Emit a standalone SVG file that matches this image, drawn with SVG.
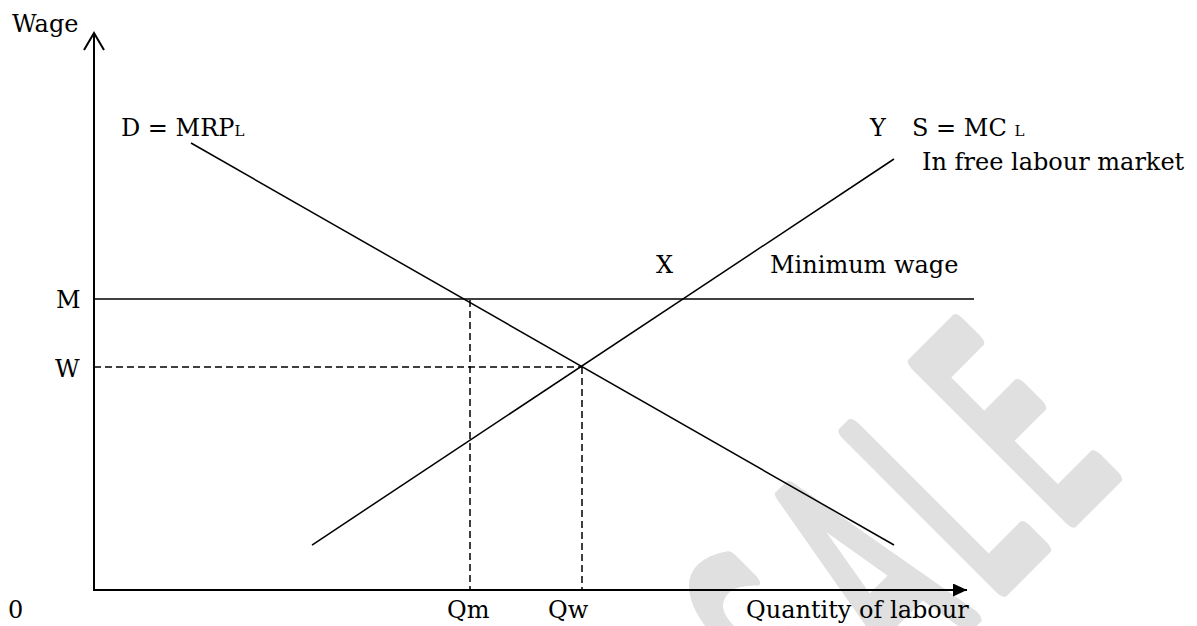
<svg xmlns="http://www.w3.org/2000/svg" width="1197" height="626" viewBox="0 0 1197 626">
<defs>
<style>
.t{font-family:"DejaVu Serif","Liberation Serif",serif;font-size:24px;fill:#000}
.sub{font-size:15px}
.ln{stroke:#000;stroke-width:1.5;fill:none}
.ax{stroke:#000;stroke-width:2;fill:none}
.dash{stroke:#000;stroke-width:1.5;stroke-dasharray:7 4;fill:none}
.wm{font-family:"DejaVu Sans",sans-serif;font-size:300px;letter-spacing:46px;fill:#e0e0e0;stroke:#e0e0e0;stroke-width:18;stroke-linejoin:round;stroke-linecap:round}
</style>
<marker id="ah" viewBox="0 0 14 13" refX="14" refY="6.5" markerWidth="14" markerHeight="13" markerUnits="userSpaceOnUse" orient="auto">
<path d="M0,0 L14,6.5 L0,13 Z" fill="#000"/>
</marker>
</defs>
<rect width="1197" height="626" fill="#fff"/>
<g id="watermark">
<text class="wm" transform="translate(830,760) rotate(-45) scale(0.46,1)">SALE</text>
</g>
<g id="axes">
<line class="ax" x1="94" y1="590" x2="94" y2="33"/>
<polyline class="ax" points="84,50 94,33 104,50"/>
<line class="ax" x1="93" y1="590" x2="967" y2="590" marker-end="url(#ah)"/>
</g>
<g id="connectors">
<line id="min-wage-line" class="ln" x1="94" y1="299" x2="974" y2="299"/>
<line id="demand" class="ln" x1="191" y1="143" x2="894" y2="545"/>
<line id="supply" class="ln" x1="312" y1="545" x2="894" y2="159"/>
<line class="dash" x1="94" y1="367" x2="582" y2="367"/>
<line class="dash" x1="470" y1="300" x2="470" y2="589"/>
<line class="dash" x1="582" y1="367" x2="582" y2="589"/>
</g>
<g id="labels">
<text class="t" x="12" y="32">Wage</text>
<text class="t" x="121" y="136">D = MRP<tspan class="sub">L</tspan></text>
<text class="t" x="870" y="136">Y</text>
<text class="t" x="912" y="136">S = MC <tspan class="sub">L</tspan></text>
<text class="t" x="922" y="170">In free labour market</text>
<text class="t" x="656" y="273">X</text>
<text class="t" x="770" y="273">Minimum wage</text>
<text class="t" x="56" y="308">M</text>
<text class="t" x="55" y="377">W</text>
<text class="t" x="8" y="618">0</text>
<text class="t" x="447" y="618">Qm</text>
<text class="t" x="548" y="618">Qw</text>
<text class="t" x="746" y="618">Quantity of labour</text>
</g>
</svg>
